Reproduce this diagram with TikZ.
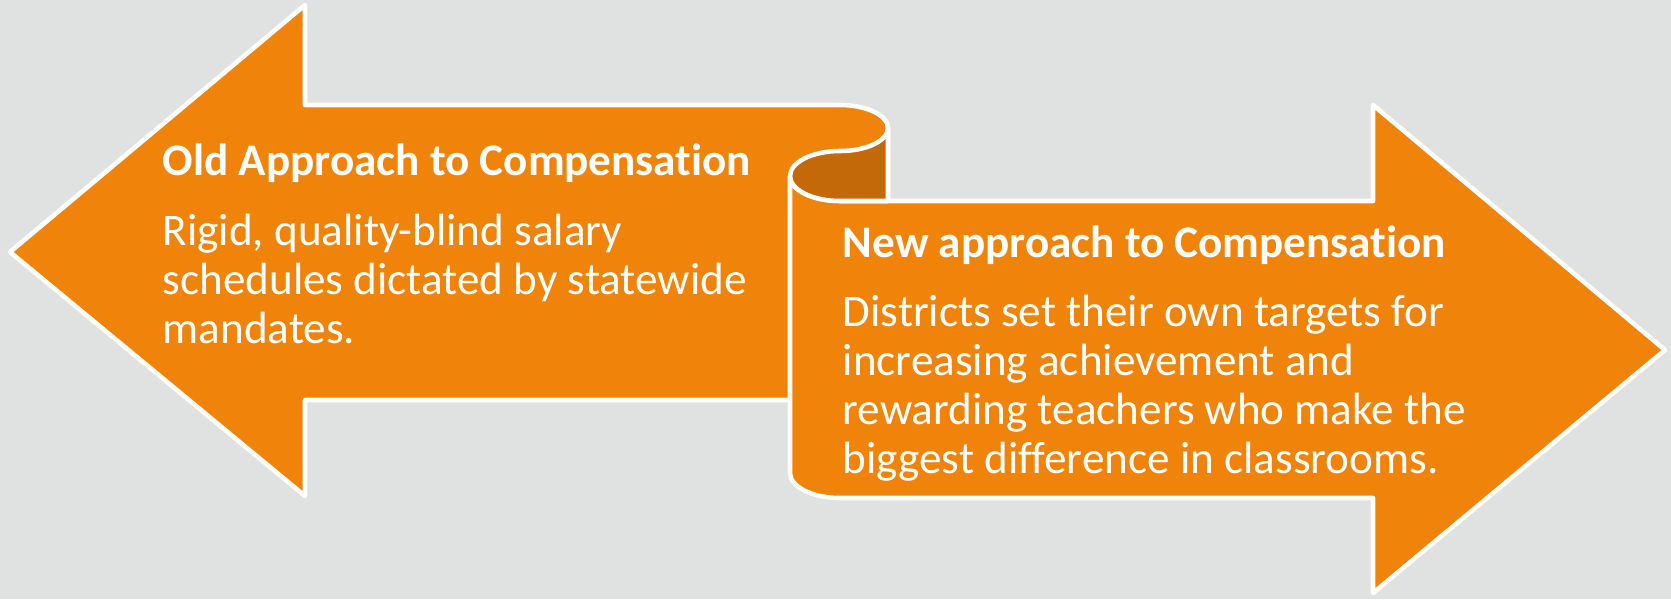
\documentclass[tikz,border=0pt]{standalone}
\usepackage{fontspec}
\setmainfont{Carlito}[Ligatures=NoCommon]
\usetikzlibrary{positioning}
\definecolor{paper}{HTML}{E0E2E1}
\definecolor{arroworange}{HTML}{F0830A}
\definecolor{rolldark}{HTML}{C3690A}
\tikzset{x=0.1mm, y=0.1mm, % One unit is one pixel of the layout
  arrowbody/.style={ % Sets the properties for both big arrows
    fill=arroworange,
    draw=white,
    line width=1.3pt,
    line join=round},
  scrollroll/.style={ % The curled-under part of the scroll
    arrowbody,
    fill=rolldark},
  headtext/.style={ % Bold heading on each arrow
    anchor=base west,
    inner sep=0pt,
    text=white,
    font=\fontsize{12.85}{13.9}\selectfont\bfseries},
  bodytext/.style={ % Description under each heading, placed by its last line
    anchor=base west,
    inner sep=0pt,
    align=left,
    text=white,
    font=\fontsize{12.85}{13.9}\selectfont}}

\begin{document}
\begin{tikzpicture}
  \fill[paper] (0,0) rectangle (1671,599);
  \useasboundingbox (0,0) rectangle (1671,599);
  % left arrow, its shaft ends in the top of the roll
  \draw[arrowbody] (10,347) -- (305,594) -- (305,494) -- (840,494)
    arc[start angle=90, end angle=0, x radius=4.8mm, y radius=2.3mm]
    -- (888,199) -- (305,199) -- (305,103) -- cycle;
  % right arrow, starts at the bottom of the roll
  \draw[arrowbody] (790,423) -- (790,126)
    arc[start angle=180, end angle=270, x radius=5mm, y radius=2.5mm]
    -- (1373,101) -- (1373,6) -- (1665,249) -- (1373,494) -- (1373,398)
    -- (840,398)
    arc[start angle=270, end angle=180, x radius=5mm, y radius=2.5mm]
    -- cycle;
  % inside of the roll
  \draw[scrollroll] (888,471)
    arc[start angle=0, end angle=-90, x radius=4.8mm, y radius=2.3mm]
    arc[start angle=90, end angle=270, x radius=5mm, y radius=2.5mm]
    -- (888,398) -- cycle;
  \node[headtext] (oldhead) at (162,424) {Old Approach to Compensation};
  \node[bodytext] (oldbody) at (162,256) {Rigid, quality-blind salary\\
    schedules dictated by statewide\\mandates.};
  \node[headtext] (newhead) at (842,342) {New approach to Compensation};
  \node[bodytext] (newbody) at (842,126) {Districts set their own targets for\\
    increasing achievement and\\rewarding teachers who make the\\
    biggest difference in classrooms.};
\end{tikzpicture}
\end{document}
